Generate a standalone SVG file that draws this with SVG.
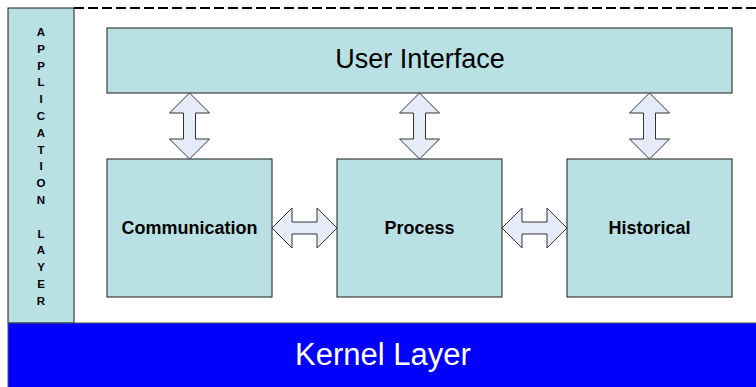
<svg xmlns="http://www.w3.org/2000/svg" width="756" height="387" viewBox="0 0 756 387">
<style>
.box{fill:#B9E0E3;stroke:#1a1a1a;stroke-width:1}
.arr{fill:#E6ECF7;stroke:#333;stroke-width:1;stroke-linejoin:miter}
.lbl{font-family:"Liberation Sans",Arial,sans-serif;font-weight:bold;font-size:18px;fill:#000;text-anchor:middle}
.vl{font-family:"Liberation Sans",Arial,sans-serif;font-weight:bold;font-size:11.5px;fill:#000;text-anchor:middle}
</style>
<rect width="756" height="387" fill="#fff"/>
<line x1="74" y1="8" x2="756" y2="8" stroke="#000" stroke-width="2.2" stroke-dasharray="10 4"/>
<g id="application-layer">
<rect class="box" x="8" y="8" width="66" height="315"/>
<text class="vl" x="41"><tspan x="41" y="36">A</tspan><tspan x="41" y="52.8">P</tspan><tspan x="41" y="69.6">P</tspan><tspan x="41" y="86.4">L</tspan><tspan x="41" y="103.2">I</tspan><tspan x="41" y="120">C</tspan><tspan x="41" y="136.8">A</tspan><tspan x="41" y="153.6">T</tspan><tspan x="41" y="170.4">I</tspan><tspan x="41" y="187.2">O</tspan><tspan x="41" y="204">N</tspan><tspan x="41" y="237.6">L</tspan><tspan x="41" y="254.4">A</tspan><tspan x="41" y="271.2">Y</tspan><tspan x="41" y="288">E</tspan><tspan x="41" y="304.8">R</tspan></text>
</g>
<g id="kernel-layer">
<rect x="8" y="323" width="752" height="70" fill="#0000FF" stroke="#555" stroke-width="1"/>
<text x="383" y="365" font-family="'Liberation Sans',Arial,sans-serif" font-size="31" fill="#fff" text-anchor="middle">Kernel Layer</text>
</g>
<g id="user-interface">
<rect class="box" x="107" y="28" width="625" height="65"/>
<text x="420" y="68" font-family="'Liberation Sans',Arial,sans-serif" font-size="27" fill="#000" text-anchor="middle">User Interface</text>
</g>
<g id="communication">
<rect class="box" x="107" y="159" width="165" height="138"/>
<text class="lbl" x="189.5" y="234">Communication</text>
</g>
<g id="process">
<rect class="box" x="337" y="159" width="165" height="138"/>
<text class="lbl" x="419.5" y="234">Process</text>
</g>
<g id="historical">
<rect class="box" x="567" y="159" width="165" height="138"/>
<text class="lbl" x="649.5" y="234">Historical</text>
</g>
<g id="connectors">
<path class="arr" d="M189.5,93 L209.5,113 L195.5,113 L195.5,139 L209.5,139 L189.5,159 L169.5,139 L183.5,139 L183.5,113 L169.5,113 Z"/>
<path class="arr" d="M419.5,93 L439.5,113 L425.5,113 L425.5,139 L439.5,139 L419.5,159 L399.5,139 L413.5,139 L413.5,113 L399.5,113 Z"/>
<path class="arr" d="M649.5,93 L669.5,113 L655.5,113 L655.5,139 L669.5,139 L649.5,159 L629.5,139 L643.5,139 L643.5,113 L629.5,113 Z"/>
<path class="arr" d="M272,228 L292,208 L292,222 L317,222 L317,208 L337,228 L317,248 L317,234 L292,234 L292,248 Z"/>
<path class="arr" d="M502,228 L522,208 L522,222 L547,222 L547,208 L567,228 L547,248 L547,234 L522,234 L522,248 Z"/>
</g>
</svg>
